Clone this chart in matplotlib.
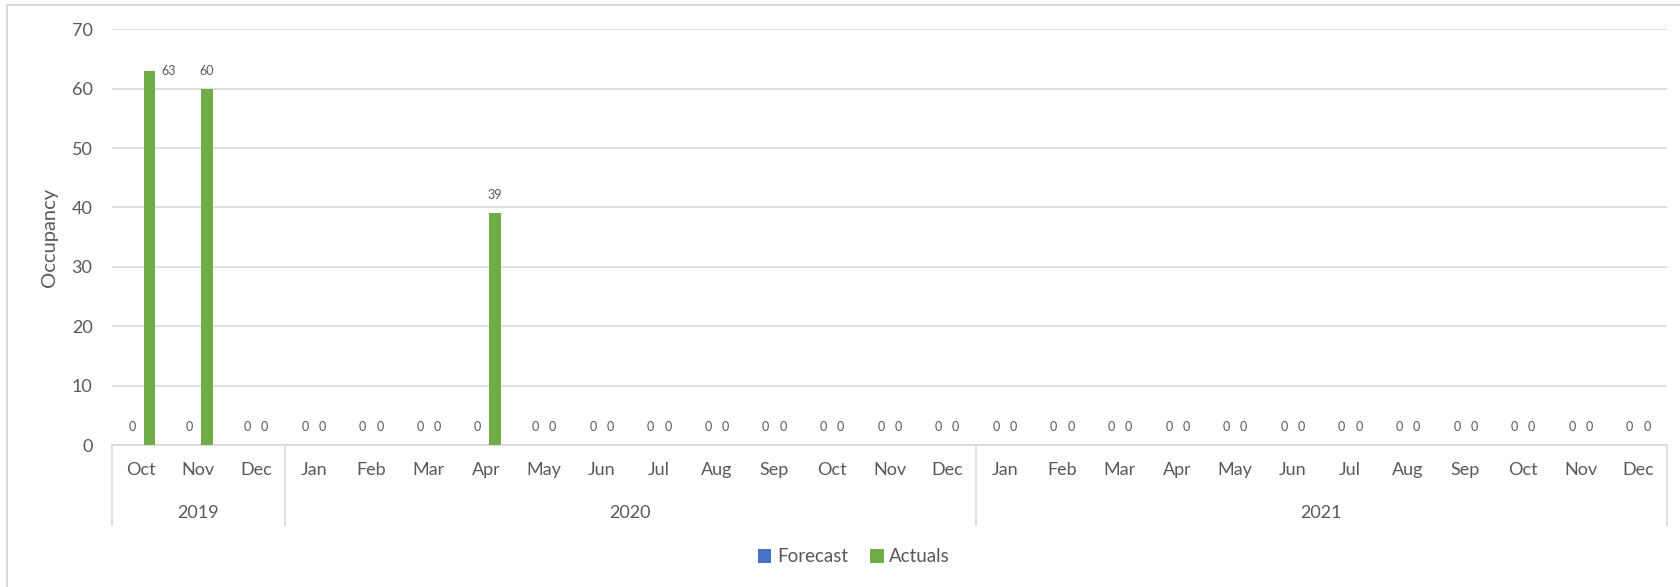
import matplotlib
matplotlib.use('Agg')
from matplotlib import pyplot as plt
from matplotlib.lines import Line2D
import numpy as np

# 数据
months = ['Oct', 'Nov', 'Dec',
          'Jan', 'Feb', 'Mar', 'Apr', 'May', 'Jun', 'Jul', 'Aug', 'Sep', 'Oct', 'Nov', 'Dec',
          'Jan', 'Feb', 'Mar', 'Apr', 'May', 'Jun', 'Jul', 'Aug', 'Sep', 'Oct', 'Nov', 'Dec']
years = ['2019', '2020', '2021']
months_per_year = [3, 12, 12]
forecast = [0] * 27
actuals = [63, 60, 0,
           0, 0, 0, 39, 0, 0, 0, 0, 0, 0, 0, 0,
           0, 0, 0, 0, 0, 0, 0, 0, 0, 0, 0, 0]

plt.rcParams['font.family'] = ['Lato', 'DejaVu Sans']
text_color = '#595959'
grid_color = '#D9D9D9'
blue = '#4472C4'
green = '#70AD47'

fig = plt.figure(figsize=(16.8, 5.87), dpi=100)
ax = fig.add_axes([112 / 1680, 1 - 445 / 587, (1667 - 112) / 1680, (445 - 29.3) / 587])

x = np.arange(len(months))
w = 0.2
off = 0.15
b1 = ax.bar(x - off, forecast, width=w, color=blue, label='Forecast', zorder=3)
b2 = ax.bar(x + off, actuals, width=w, color=green, label='Actuals', zorder=3)

# 数据标签
lab_size = 9
for rect, v in zip(b1, forecast):
    ax.annotate(str(v), (rect.get_x() + rect.get_width() / 2, v), xytext=(0, 13),
                textcoords='offset points', ha='center', va='center',
                fontsize=lab_size, color=text_color)
for i, (rect, v) in enumerate(zip(b2, actuals)):
    if i == 0:
        # 63 的标签挪到柱子右边
        xy_off = (14, 0)
    else:
        xy_off = (0, 13)
    ax.annotate(str(v), (rect.get_x() + rect.get_width() / 2, v), xytext=xy_off,
                textcoords='offset points', ha='center', va='center',
                fontsize=lab_size, color=text_color)

ax.set_xlim(-0.5, len(months) - 0.5)
ax.set_ylim(0, 70)
ax.set_yticks(range(0, 71, 10))
ax.tick_params(axis='y', length=0, pad=14, labelsize=13, labelcolor=text_color)
ax.set_xticks(x)
ax.set_xticklabels(months)
ax.tick_params(axis='x', length=0, pad=12, labelsize=13, labelcolor=text_color)

ax.grid(axis='y', color=grid_color, linewidth=1.2, zorder=0)
for s in ['top', 'right', 'left']:
    ax.spines[s].set_visible(False)
ax.spines['bottom'].set_color(grid_color)
ax.spines['bottom'].set_linewidth(1.2)

ax.set_ylabel('Occupancy', fontsize=14.5, color=text_color, labelpad=10)

# 年份分组
trans = ax.get_xaxis_transform()
start = 0
bounds = [0]
for y, n in zip(years, months_per_year):
    ax.text(start + n / 2 - 0.5, -0.164, y, transform=trans, ha='center', va='center',
            fontsize=13, color=text_color)
    start += n
    bounds.append(start)
for b in bounds:
    ax.plot([b - 0.5, b - 0.5], [0, -0.193], transform=trans, color=grid_color,
            linewidth=1.2, clip_on=False)

# 图例
fig.legend(handles=[b1, b2], labels=['Forecast', 'Actuals'], loc='center',
           bbox_to_anchor=(854 / 1680, 1 - 557 / 587), ncol=2, frameon=False,
           fontsize=13.5, labelcolor=text_color, handlelength=0.7, handleheight=0.7,
           handletextpad=0.3, columnspacing=1.2)

# 图表外框
fig.add_artist(Line2D([7 / 1680, 7 / 1680], [0, 1 - 5 / 587], transform=fig.transFigure,
                      color=grid_color, linewidth=1.5))
fig.add_artist(Line2D([7 / 1680, 1], [1 - 5 / 587, 1 - 5 / 587], transform=fig.transFigure,
                      color=grid_color, linewidth=1.5))

fig.savefig('out.png', dpi=100)
